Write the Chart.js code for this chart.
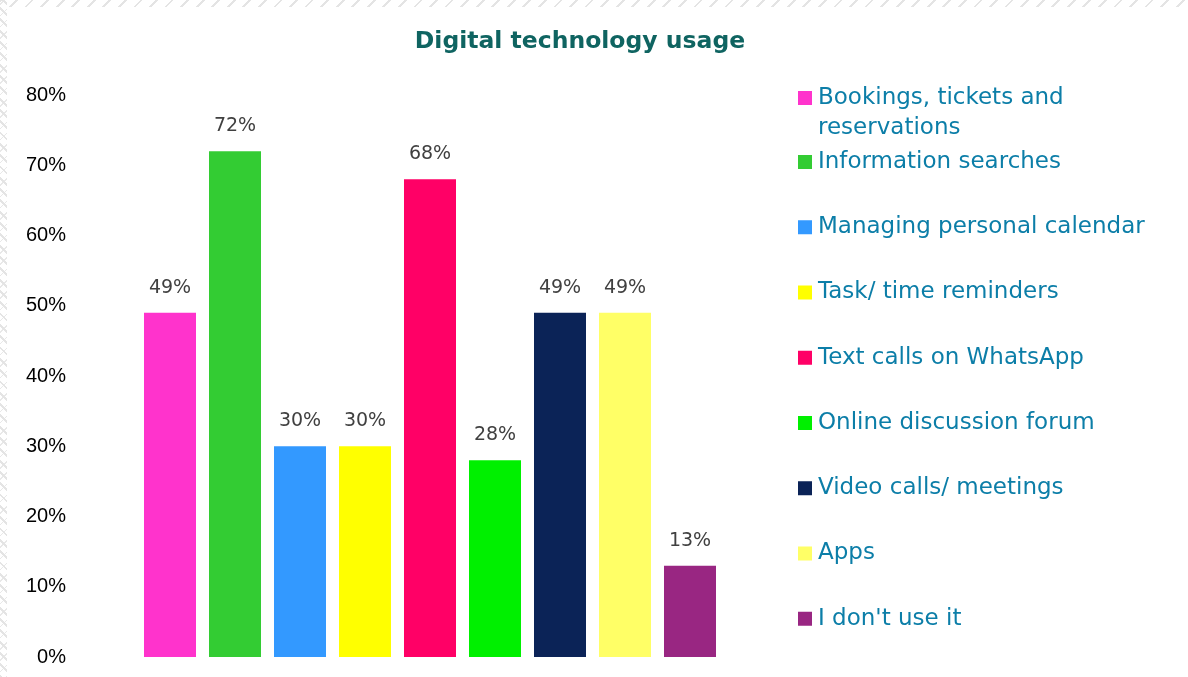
<!DOCTYPE html>
<html>
<head>
<meta charset="utf-8">
<script src="https://cdn.jsdelivr.net/npm/chart.js@4.4.1/dist/chart.umd.min.js"></script>
<style>
  html, body { margin: 0; padding: 0; background: #ffffff; }
  #wrap { position: relative; width: 1188px; height: 677px; overflow: hidden; background: #ffffff; }
  #edgeTop { position: absolute; left: 0; top: 0; width: 1188px; height: 7px;
    background: repeating-linear-gradient(135deg, #e4e4e4 0 2px, transparent 2px 11px); }
  #edgeLeft { position: absolute; left: 0; top: 0; width: 7px; height: 677px;
    background: repeating-linear-gradient(45deg, #e4e4e4 0 2px, transparent 2px 8px),
                repeating-linear-gradient(-45deg, #e8e8e8 0 1px, transparent 1px 8px); }
  canvas { position: absolute; left: 0; top: 0; }
</style>
</head>
<body>
<div id="wrap">
  <div id="edgeTop"></div>
  <div id="edgeLeft"></div>
  <canvas id="chart" width="1188" height="677"></canvas>
</div>
<script>
// Survey answers: share of respondents using each digital activity
const categories = [
  'Bookings, tickets and reservations',
  'Information searches',
  'Managing personal calendar',
  'Task/ time reminders',
  'Text calls on WhatsApp',
  'Online discussion forum',
  'Video calls/ meetings',
  'Apps',
  "I don't use it"
];
const usagePercent = [49, 72, 30, 30, 68, 28, 49, 49, 13];
const barColors = ['#FF33CC', '#33CC33', '#3399FF', '#FFFF00', '#FF0066', '#00F000', '#0B2357', '#FFFF66', '#992682'];
const yTicks = [0, 10, 20, 30, 40, 50, 60, 70, 80];
const chartTitle = 'Digital technology usage';

// Value labels above each bar
const valueLabels = {
  id: 'valueLabels',
  afterDatasetsDraw(chart) {
    const ctx = chart.ctx;
    const meta = chart.getDatasetMeta(0);
    ctx.save();
    ctx.font = '19px "DejaVu Sans"';
    ctx.fillStyle = '#404040';
    ctx.textAlign = 'center';
    ctx.textBaseline = 'middle';
    meta.data.forEach((bar, i) => {
      ctx.fillText(chart.data.datasets[0].data[i] + '%', bar.x, bar.y - 25);
    });
    ctx.restore();
  }
};

// Title and right-hand legend
const sideLegend = {
  id: 'sideLegend',
  afterDraw(chart) {
    const ctx = chart.ctx;
    ctx.save();
    ctx.font = 'bold 23.5px "DejaVu Sans"';
    ctx.fillStyle = '#0F6461';
    ctx.textAlign = 'center';
    ctx.textBaseline = 'middle';
    ctx.fillText(chartTitle, 580, 42);

    ctx.font = '23px "DejaVu Sans"';
    ctx.textAlign = 'left';
    const maxW = 345;
    const textX = 818, boxX = 798, box = 14;
    chart.data.labels.forEach((label, i) => {
      // wrap words to the legend width
      const words = label.split(' ');
      const lines = [];
      let cur = '';
      words.forEach(w => {
        const test = cur ? cur + ' ' + w : w;
        if (ctx.measureText(test).width > maxW && cur) { lines.push(cur); cur = w; }
        else cur = test;
      });
      if (cur) lines.push(cur);
      const y0 = i === 0 ? 98 : 162 + (i - 1) * 65.25;
      ctx.fillStyle = chart.data.datasets[0].backgroundColor[i];
      ctx.fillRect(boxX, y0 - box / 2, box, box);
      ctx.fillStyle = '#0C7EA8';
      lines.forEach((ln, k) => ctx.fillText(ln, textX, y0 + k * 30));
    });
    ctx.restore();
  }
};

new Chart(document.getElementById('chart'), {
  type: 'bar',
  data: {
    labels: categories,
    datasets: [{
      data: usagePercent,
      backgroundColor: barColors,
      borderWidth: 0,
      barPercentage: 0.8,
      categoryPercentage: 1.0
    }]
  },
  options: {
    responsive: false,
    aspectRatio: 1188 / 677,
    animation: false,
    layout: { padding: { left: 0, right: 465.5, top: 95, bottom: 20 } },
    plugins: {
      legend: { display: false },
      title: { display: false },
      tooltip: { enabled: false }
    },
    scales: {
      x: { display: false },
      y: {
        min: 0,
        max: 80,
        afterFit(scale) {
          // wide gap between the tick labels and the first bar
          scale.width = 137.5;
          scale.paddingTop = 10;
          scale.paddingBottom = 10;
        },
        afterBuildTicks(scale) { scale.ticks = yTicks.map(v => ({ value: v })); },
        grid: { display: false, drawTicks: false },
        border: { display: false },
        ticks: {
          padding: 71.5,
          color: '#000000',
          font: { family: '"Liberation Sans"', size: 20 },
          callback: v => v + '%'
        }
      }
    }
  },
  plugins: [valueLabels, sideLegend]
});
</script>
</body>
</html>
